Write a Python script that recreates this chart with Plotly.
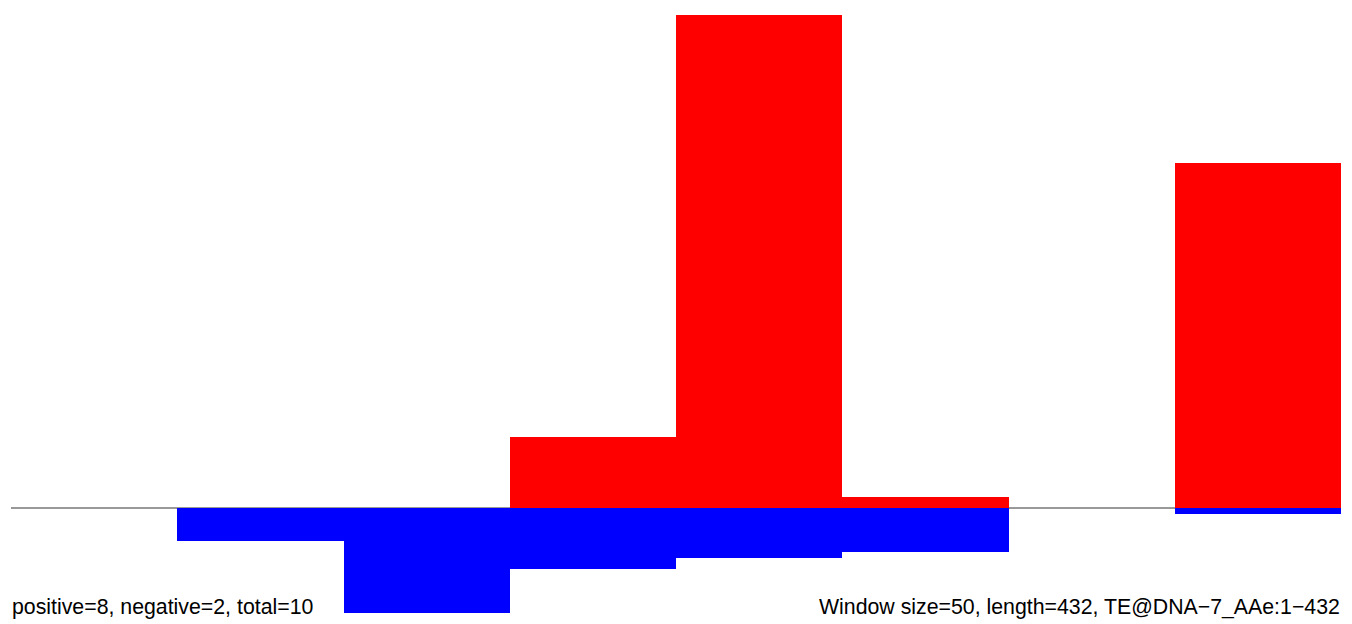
import plotly.graph_objects as go

bins = [0, 1, 2, 3, 4, 5, 6, 7]
positive = [0, 0, 0, 71, 493, 11, 0, 345]
negative = [0, -33, -105, -61, -50, -44, 0, -6]
left_label = "positive=8, negative=2, total=10"
right_label = "Window size=50, length=432, TE@DNA\u22127_AAe:1\u2212432"

fig = go.Figure()
fig.add_trace(go.Bar(x=bins, y=positive, width=1, marker=dict(color="#FF0000", line=dict(width=0)),
                     hoverinfo="x+y"))
fig.add_trace(go.Bar(x=bins, y=negative, width=1, marker=dict(color="#0000FF", line=dict(width=0)),
                     hoverinfo="x+y"))

fig.add_shape(type="line", xref="paper", yref="y", x0=0, x1=1, y0=0, y1=0,
              line=dict(color="#333333", width=1), layer="below")

fig.add_annotation(text=left_label, xref="paper", yref="y", x=0, y=-99,
                   xanchor="left", yanchor="middle", showarrow=False, borderpad=0,
                   font=dict(family="Liberation Sans, Arial", size=21.3, color="#000000"))
fig.add_annotation(text=right_label, xref="paper", yref="y", x=1, y=-99,
                   xanchor="right", yanchor="middle", showarrow=False, borderpad=0,
                   font=dict(family="Liberation Sans, Arial", size=21.3, color="#000000"))

fig.update_layout(
    width=1352, height=624,
    margin=dict(l=3, r=19, t=7, b=19),
    barmode="overlay",
    bargap=0,
    showlegend=False,
    plot_bgcolor="white",
    paper_bgcolor="white",
    xaxis=dict(range=[-0.5, 7.5], visible=False, fixedrange=True),
    yaxis=dict(range=[-105, 493], visible=False, fixedrange=True),
)

fig.write_html("out.html")
